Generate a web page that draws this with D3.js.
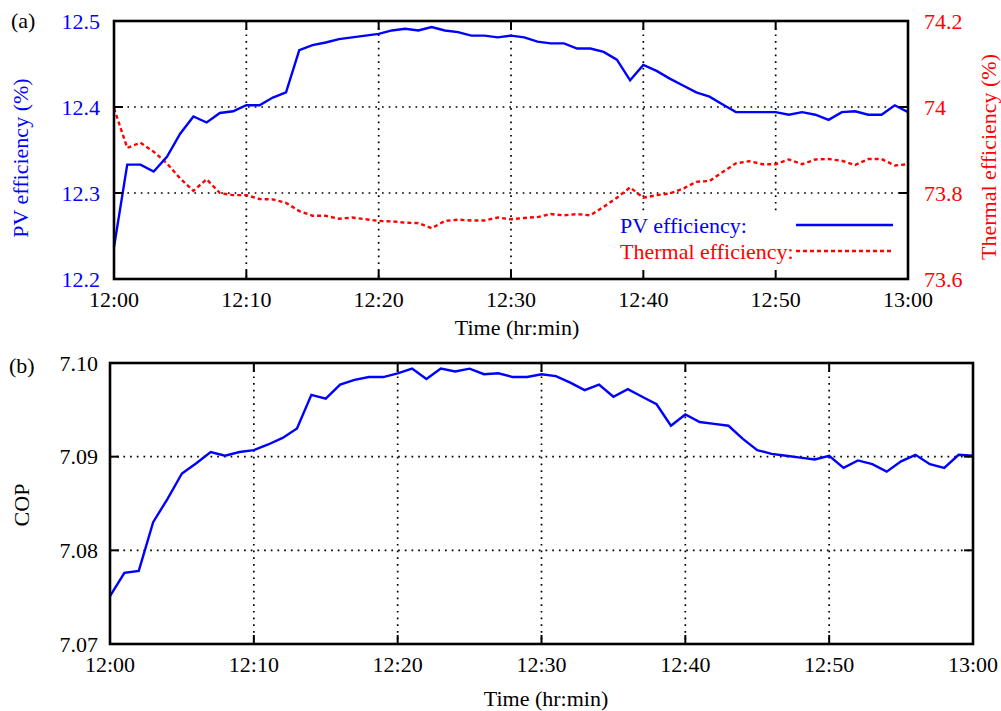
<!DOCTYPE html>
<html>
<head>
<meta charset="utf-8">
<title>PV/T efficiency and COP</title>
<script src="https://d3js.org/d3.v7.min.js"></script>
<style>
    body { margin: 0; background: #fff; }
    svg text { font-family: "Liberation Serif", "Times New Roman", serif; font-size: 22px; }
</style>
</head>
<body>
<div id="chart"></div>
<script>
// minutes after 12:00, one sample per minute
var minutes = d3.range(0, 61);
var xTickValues = [0, 10, 20, 30, 40, 50, 60];
var xTickLabels = ["12:00", "12:10", "12:20", "12:30", "12:40", "12:50", "13:00"];

var pvEff = [12.237, 12.333, 12.333, 12.325, 12.342, 12.369, 12.389, 12.382, 12.393, 12.395,
    12.402, 12.402, 12.411, 12.417, 12.466, 12.472, 12.475, 12.479, 12.481, 12.483,
    12.485, 12.489, 12.491, 12.489, 12.493, 12.489, 12.487, 12.483, 12.483, 12.481,
    12.483, 12.481, 12.476, 12.474, 12.474, 12.468, 12.468, 12.464, 12.455, 12.431,
    12.449, 12.442, 12.433, 12.425, 12.417, 12.412, 12.403, 12.394, 12.394, 12.394,
    12.394, 12.391, 12.394, 12.391, 12.385, 12.394, 12.395, 12.391, 12.391, 12.402, 12.394];

var thermalEff = [73.997, 73.905, 73.917, 73.896, 73.869, 73.834, 73.805, 73.832, 73.800, 73.795,
    73.795, 73.786, 73.785, 73.777, 73.758, 73.747, 73.747, 73.740, 73.743, 73.739,
    73.735, 73.734, 73.731, 73.730, 73.718, 73.735, 73.738, 73.736, 73.736, 73.743,
    73.739, 73.742, 73.744, 73.751, 73.748, 73.751, 73.748, 73.768, 73.789, 73.813,
    73.789, 73.795, 73.799, 73.810, 73.826, 73.828, 73.849, 73.869, 73.874, 73.867,
    73.867, 73.878, 73.867, 73.878, 73.879, 73.875, 73.865, 73.879, 73.879, 73.864, 73.867];

var cop = [7.0751, 7.0776, 7.0778, 7.0830, 7.0855, 7.0882, 7.0893, 7.0905, 7.0901, 7.0905,
    7.0907, 7.0913, 7.0920, 7.0930, 7.0966, 7.0962, 7.0977, 7.0982, 7.0985, 7.0985,
    7.0989, 7.0994, 7.0983, 7.0994, 7.0991, 7.0994, 7.0988, 7.0989, 7.0985, 7.0985,
    7.0988, 7.0986, 7.0979, 7.0971, 7.0977, 7.0964, 7.0972, 7.0964, 7.0956, 7.0933,
    7.0945, 7.0937, 7.0935, 7.0933, 7.0919, 7.0907, 7.0903, 7.0901, 7.0899, 7.0897,
    7.0901, 7.0888, 7.0896, 7.0892, 7.0884, 7.0895, 7.0902, 7.0892, 7.0888, 7.0902, 7.0901];

var pvTicks = [12.2, 12.3, 12.4, 12.5];
var thermalTicks = [73.6, 73.8, 74.0, 74.2];
var thermalTickLabels = ["73.6", "73.8", "74", "74.2"];
var copTicks = [7.07, 7.08, 7.09, 7.10];

var svg = d3.select("#chart").append("svg")
    .attr("width", 1001)
    .attr("height", 711);

var BLUE = "#0000ff", RED = "#ff0000";

// dotted grid inside the plot
function frame(g, x, y, yTicks, w, h) {
    var grid = g.append("g");
    xTickValues.forEach(function (t) {
        if (t === 0 || t === 60) return;
        grid.append("line").attr("x1", x(t)).attr("x2", x(t)).attr("y1", 0).attr("y2", h);
    });
    yTicks.forEach(function (t, i) {
        if (i === 0 || i === yTicks.length - 1) return;
        grid.append("line").attr("x1", 0).attr("x2", w).attr("y1", y(t)).attr("y2", y(t));
    });
    grid.selectAll("line")
        .attr("stroke", "#000")
        .attr("stroke-width", 1.7)
        .attr("stroke-dasharray", "1.7,5");
}

// inward ticks on all four sides, border and x tick labels
function ticksAndBox(g, x, y, yTicks, w, h) {
    var tk = g.append("g").attr("stroke", "#000").attr("stroke-width", 2);
    xTickValues.forEach(function (t) {
        tk.append("line").attr("x1", x(t)).attr("x2", x(t)).attr("y1", h).attr("y2", h - 9);
        tk.append("line").attr("x1", x(t)).attr("x2", x(t)).attr("y1", 0).attr("y2", 9);
    });
    yTicks.forEach(function (t) {
        tk.append("line").attr("x1", 0).attr("x2", 9).attr("y1", y(t)).attr("y2", y(t));
        tk.append("line").attr("x1", w).attr("x2", w - 9).attr("y1", y(t)).attr("y2", y(t));
    });
    g.append("rect")
        .attr("width", w).attr("height", h)
        .attr("fill", "none")
        .attr("stroke", "#000")
        .attr("stroke-width", 2.6);

    g.selectAll(".xlab")
        .data(xTickValues)
        .enter().append("text")
        .attr("x", function (d) { return x(d); })
        .attr("y", h + 28)
        .attr("text-anchor", "middle")
        .text(function (d, i) { return xTickLabels[i]; });
}

// ---------- panel (a) ----------
var a = { left: 114, top: 21, w: 794, h: 258 };
var xa = d3.scaleLinear().domain([0, 60]).range([0, a.w]);
var ya = d3.scaleLinear().domain([12.2, 12.5]).range([a.h, 0]);
var yt = d3.scaleLinear().domain([73.6, 74.2]).range([a.h, 0]);

var ga = svg.append("g").attr("transform", "translate(" + a.left + "," + a.top + ")");
frame(ga, xa, ya, pvTicks, a.w, a.h);

// key background
ga.append("rect")
    .attr("x", 498).attr("y", 192)
    .attr("width", 292).attr("height", 64)
    .attr("fill", "#fff");

var linePv = d3.line()
    .x(function (d, i) { return xa(minutes[i]); })
    .y(function (d) { return ya(d); });
var lineTh = d3.line()
    .x(function (d, i) { return xa(minutes[i]); })
    .y(function (d) { return yt(d); });

ga.append("path").datum(thermalEff)
    .attr("d", lineTh)
    .attr("fill", "none")
    .attr("stroke", RED)
    .attr("stroke-width", 2.4)
    .attr("stroke-dasharray", "4,3");
ga.append("path").datum(pvEff)
    .attr("d", linePv)
    .attr("fill", "none")
    .attr("stroke", BLUE)
    .attr("stroke-width", 2.4);

ticksAndBox(ga, xa, ya, pvTicks, a.w, a.h);

ga.selectAll(".ylab")
    .data(pvTicks)
    .enter().append("text")
    .attr("x", -14)
    .attr("y", function (d) { return ya(d); })
    .attr("dy", "0.35em")
    .attr("text-anchor", "end")
    .attr("fill", BLUE)
    .text(function (d) { return d.toFixed(1); });

ga.selectAll(".yrlab")
    .data(thermalTicks)
    .enter().append("text")
    .attr("x", a.w + 16)
    .attr("y", function (d) { return yt(d); })
    .attr("dy", "0.35em")
    .attr("fill", RED)
    .text(function (d, i) { return thermalTickLabels[i]; });

// legend
ga.append("text").attr("x", 506).attr("y", 212).attr("fill", BLUE).text("PV efficiency:");
ga.append("text").attr("x", 506).attr("y", 238).attr("fill", RED).text("Thermal efficiency:");
ga.append("line").attr("x1", 682).attr("x2", 779).attr("y1", 204).attr("y2", 204)
    .attr("stroke", BLUE).attr("stroke-width", 2.4);
ga.append("line").attr("x1", 682).attr("x2", 779).attr("y1", 230).attr("y2", 230)
    .attr("stroke", RED).attr("stroke-width", 2.4).attr("stroke-dasharray", "4,3");

svg.append("text").attr("x", 517).attr("y", 335).attr("text-anchor", "middle").text("Time (hr:min)");
svg.append("text")
    .attr("transform", "translate(28,158) rotate(-90)")
    .attr("text-anchor", "middle")
    .attr("fill", BLUE)
    .text("PV efficiency (%)");
svg.append("text")
    .attr("transform", "translate(996,157) rotate(-90)")
    .attr("text-anchor", "middle")
    .attr("fill", RED)
    .text("Thermal efficiency (%)");
svg.append("text").attr("x", 11).attr("y", 28).text("(a)");

// ---------- panel (b) ----------
var b = { left: 110, top: 363, w: 863, h: 281 };
var xb = d3.scaleLinear().domain([0, 60]).range([0, b.w]);
var yb = d3.scaleLinear().domain([7.07, 7.10]).range([b.h, 0]);

var gb = svg.append("g").attr("transform", "translate(" + b.left + "," + b.top + ")");
frame(gb, xb, yb, copTicks, b.w, b.h);

gb.append("path").datum(cop)
    .attr("d", d3.line()
        .x(function (d, i) { return xb(minutes[i]); })
        .y(function (d) { return yb(d); }))
    .attr("fill", "none")
    .attr("stroke", BLUE)
    .attr("stroke-width", 2.4);

ticksAndBox(gb, xb, yb, copTicks, b.w, b.h);

gb.selectAll(".ylab")
    .data(copTicks)
    .enter().append("text")
    .attr("x", -12)
    .attr("y", function (d) { return yb(d); })
    .attr("dy", "0.35em")
    .attr("text-anchor", "end")
    .text(function (d) { return d.toFixed(2); });

svg.append("text").attr("x", 546).attr("y", 706).attr("text-anchor", "middle").text("Time (hr:min)");
svg.append("text")
    .attr("transform", "translate(29,505) rotate(-90)")
    .attr("text-anchor", "middle")
    .text("COP");
svg.append("text").attr("x", 9).attr("y", 373).text("(b)");
</script>
</body>
</html>
